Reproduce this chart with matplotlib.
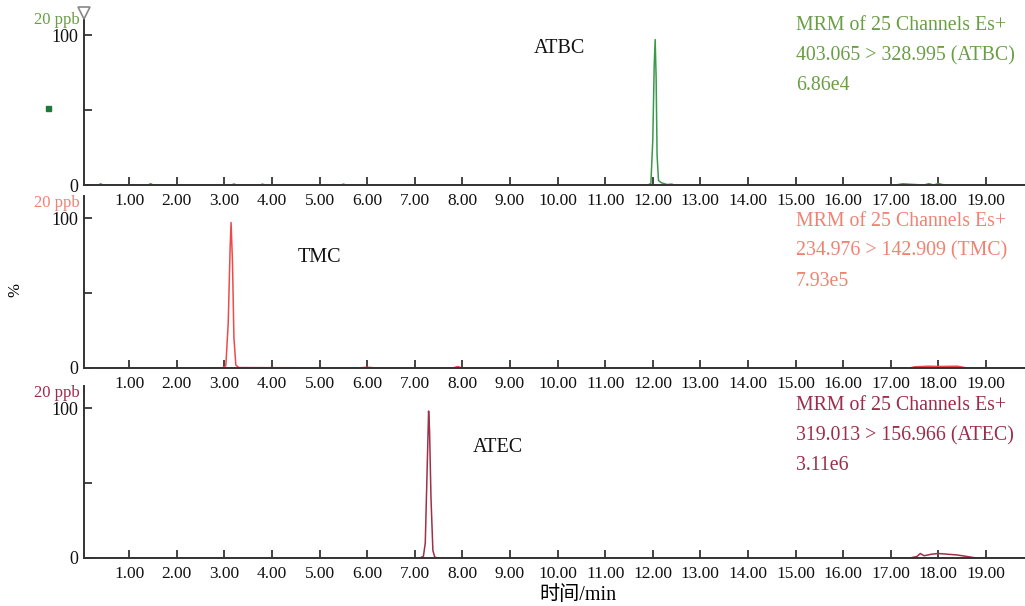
import matplotlib
matplotlib.use("Agg")
import matplotlib.pyplot as plt
from matplotlib.patches import Rectangle

# ---- data ----
atbc_time = [0.05, 0.35, 0.40, 0.45, 1.40, 1.45, 1.50, 3.15, 3.20, 3.25, 3.75, 3.80, 3.85,
             5.45, 5.50, 5.55, 11.90, 11.96, 12.00, 12.03, 12.05, 12.07, 12.09, 12.12,
             12.18, 12.30, 12.40, 12.45, 17.10, 17.25, 17.40, 17.70, 17.80, 17.90, 18.00,
             18.10, 18.40, 19.85]
atbc_pct = [0.0, 0.0, 0.8, 0.0, 0.0, 0.9, 0.0, 0.0, 0.7, 0.0, 0.0, 0.6, 0.0,
            0.0, 0.6, 0.0, 0.0, 1.0, 30.0, 80.0, 97.0, 72.0, 20.0, 3.0,
            1.5, 0.3, 0.6, 0.0, 0.0, 0.8, 0.5, 0.0, 0.9, 0.0, 1.0,
            0.2, 0.0, 0.0]

tmc_time = [0.05, 2.95, 3.03, 3.08, 3.12, 3.14, 3.17, 3.20, 3.24, 3.30, 5.80, 6.00, 6.20,
            7.80, 7.90, 8.00, 17.40, 17.50, 17.80, 18.00, 18.40, 18.60, 19.85]
tmc_pct = [0.0, 0.0, 1.5, 30.0, 80.0, 97.0, 70.0, 20.0, 2.0, 0.3, 0.0, 0.5, 0.0,
           0.0, 1.0, 0.0, 0.0, 0.8, 1.2, 1.0, 1.2, 0.0, 0.0]

atec_time = [0.05, 7.10, 7.18, 7.22, 7.26, 7.29, 7.31, 7.34, 7.38, 7.42, 7.50,
             17.40, 17.55, 17.62, 17.70, 17.85, 18.00, 18.20, 18.40, 18.60, 18.80, 19.85]
atec_pct = [0.0, 0.0, 1.0, 10.0, 60.0, 98.0, 85.0, 40.0, 5.0, 0.5, 0.0,
            0.0, 1.0, 3.0, 1.5, 2.5, 3.0, 2.5, 2.0, 1.0, 0.0, 0.0]

compounds = ["ATBC", "TMC", "ATEC"]
header = "MRM of 25 Channels Es+"
transitions = ["403.065 > 328.995 (ATBC)", "234.976 > 142.909 (TMC)", "319.013 > 156.966 (ATEC)"]
intensities = ["6.86e4", "7.93e5", "3.11e6"]
conc_label = "20 ppb"
xticks = [float(i) for i in range(1, 20)]
xticklabels = ["%.2f" % v for v in xticks]
yticks = [0, 50, 100]
yticklabels = ["0", "", "100"]
xlabel = "时间/min"
ylabel = "%"

line_colors = ["#3a9a4c", "#ee4a4a", "#9e3048"]
text_colors = ["#6a9e45", "#f08272", "#9b2d4a"]
label_pos = [(12.05 - 2.0, 91), (3.14 + 1.85, 74), (7.30 + 1.45, 74)]  # compound label anchors

serif = ["Liberation Serif", "Noto Sans CJK SC"]
plt.rcParams["font.family"] = serif

fig = plt.figure(figsize=(10.25, 6.06), dpi=100)
W, H = 1025.0, 606.0

# panel extents in pixels: (bottom_y, top_y)
panels = [(185, 13), (368, 196), (558, 386)]
x_left, x_right = 84, 1025
series = [(atbc_time, atbc_pct), (tmc_time, tmc_pct), (atec_time, atec_pct)]

axes = []
for i, ((yb, yt), (t, p)) in enumerate(zip(panels, series)):
    ax = fig.add_axes([x_left / W, 1 - yb / H, (x_right - x_left) / W, (yb - yt) / H])
    axes.append(ax)
    ax.plot(t, p, color=line_colors[i], lw=1.1)
    ax.set_xlim(0.05, 19.82)
    ax.set_ylim(0, 114.7)
    for s in ["top", "right"]:
        ax.spines[s].set_visible(False)
    for s in ["left", "bottom"]:
        ax.spines[s].set_color("#333333")
        ax.spines[s].set_linewidth(1.4)
    ax.set_xticks(xticks)
    ax.set_xticklabels(xticklabels)
    ax.set_yticks(yticks)
    ax.set_yticklabels(yticklabels)
    ax.tick_params(axis="both", direction="in", length=6, width=1.1, labelsize=12.5, colors="#111111")
    ax.tick_params(axis="x", pad=6)
    ax.tick_params(axis="y", pad=4, labelsize=13)
    ax.patch.set_alpha(0)
    # right-hand info block
    base = [26, 221, 406][i]
    for k, s in enumerate([header, transitions[i], intensities[i]]):
        fig.text(796 / W, 1 - (base + 30 * k) / H, s, color=text_colors[i],
                 fontsize=14.3, va="center", ha="left")
    # concentration label
    fig.text(80 / W, 1 - (yt + 7) / H, conc_label, color=text_colors[i],
             fontsize=12, ha="right", va="center")
    # compound label
    ax.text(label_pos[i][0], label_pos[i][1], compounds[i], fontsize=14.5,
            color="#111111", ha="center", va="center")

# triangle marker on the first panel top
axes[0].plot([0.05], [114.7], marker="v", ms=9, mfc="white", mec="#888888",
             mew=1.2, clip_on=False, zorder=5)
# small green square artifact
fig.patches.append(Rectangle((46 / W, 1 - 111 / H), 5 / W, 5 / H,
                             transform=fig.transFigure, color="#1f7a3a", figure=fig))

fig.text(15 / W, 1 - 290 / H, ylabel, rotation=90, fontsize=12, ha="center", va="center")
fig.text(578 / W, 1 - 596 / H, xlabel, fontsize=14.5, ha="center", va="center",
         family=serif)

fig.savefig("out.png", dpi=100)
